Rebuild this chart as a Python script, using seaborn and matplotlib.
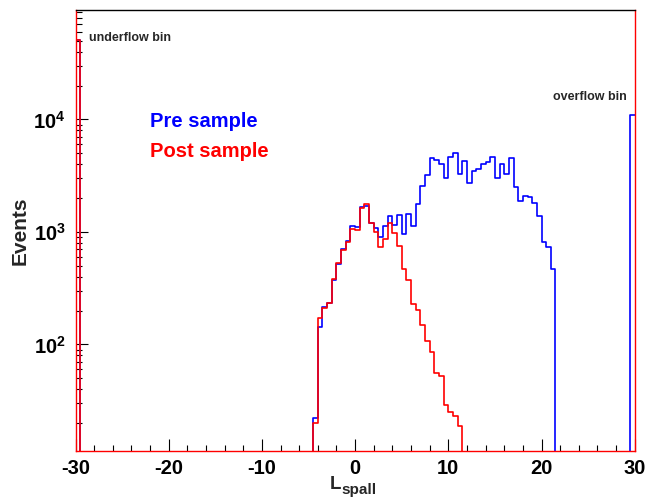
import numpy as np
import pandas as pd
import matplotlib
matplotlib.use('Agg')
import matplotlib.pyplot as plt
import seaborn as sns
from matplotlib.ticker import MultipleLocator, LogLocator, NullFormatter

# L_spall histograms, 0.5 wide bins on [-30, 30]
bin_width = 0.5
x_lo, x_hi = -30, 30
first_edge = -4.5  # first filled bin (both samples)

pre_counts = [22, 144, 217, 232, 372, 520, 700, 830, 1137, 1114,
              1679, 1714, 1210, 1078, 897, 1130, 1396, 1148, 1406, 953,
              1445, 1131, 1774, 2581, 3211, 4519, 4365, 4020, 3040, 4670,
              5010, 3260, 4300, 2743, 3508, 3630, 4000, 4170, 4670, 3040,
              4000, 3280, 4519, 2497, 1886, 2100, 2034, 1822, 1396, 810,
              741, 466]
post_counts = [20, 171, 210, 232, 380, 527, 692, 820, 1057, 1042,
               1625, 1762, 1210, 995, 731, 871, 1194, 972, 751, 466,
               374, 229, 203, 150, 107, 85, 56, 52, 29, 25,
               23, 19]
pre_underflow, pre_overflow = 50700, 10900
post_underflow, post_overflow = 50700, 0

edges = np.arange(x_lo, x_hi + bin_width / 2, bin_width)
centers = edges[:-1] + bin_width / 2


def fill_bins(counts, under, over):
    h = np.zeros(len(centers))
    i0 = int(round((first_edge - x_lo) / bin_width))
    h[i0:i0 + len(counts)] = counts
    h[0] += under      # underflow shown in first bin
    h[-1] += over      # overflow shown in last bin
    return h


df = pd.DataFrame({'L': centers,
                   'pre': fill_bins(pre_counts, pre_underflow, pre_overflow),
                   'post': fill_bins(post_counts, post_underflow, post_overflow)})

sns.set_style('ticks')
plt.rcParams['font.family'] = ['Liberation Sans', 'DejaVu Sans']
plt.rcParams['font.weight'] = 'bold'
plt.rcParams['axes.unicode_minus'] = False
plt.rcParams['mathtext.fontset'] = 'custom'
plt.rcParams['mathtext.rm'] = 'Liberation Sans:bold'
plt.rcParams['mathtext.bf'] = 'Liberation Sans:bold'
plt.rcParams['mathtext.it'] = 'Liberation Sans:bold'

fig = plt.figure(figsize=(6.47, 4.98), dpi=100)
ax = fig.add_axes([0.1167, 0.0944, 0.8643, 0.8855])

sns.histplot(data=df, x='L', weights='pre', binwidth=bin_width,
             binrange=(x_lo, x_hi), element='step',
             fill=False, color='blue', lw=1.2, ax=ax)
sns.histplot(data=df, x='L', weights='post', binwidth=bin_width,
             binrange=(x_lo, x_hi), element='step',
             fill=False, color='red', lw=1.2, ax=ax)

ax.set_yscale('log')
ax.set_xlim(x_lo, x_hi)
ax.set_ylim(11.3, 9.4e4)

ax.xaxis.set_major_locator(MultipleLocator(10))
ax.xaxis.set_minor_locator(MultipleLocator(2))
ax.set_yticks([1e2, 1e3, 1e4], labels=[r'$10^{2}$', r'$10^{3}$', r'$10^{4}$'])
ax.yaxis.set_minor_locator(LogLocator(base=10, subs=np.arange(2, 10)))
ax.yaxis.set_minor_formatter(NullFormatter())

ax.tick_params(which='both', direction='in', width=0.8, colors='black')
ax.tick_params(which='major', length=8.5, labelsize=14.5)
ax.tick_params(which='minor', length=4.3)
ax.tick_params(axis='x', which='major', pad=6)
ax.tick_params(axis='y', which='major', pad=7)
for lab in ax.get_xticklabels() + ax.get_yticklabels():
    lab.set_fontweight('bold')

for side in ['top', 'right', 'bottom', 'left']:
    ax.spines[side].set_linewidth(1.0)
ax.spines['top'].set_color('black')
for side in ['right', 'bottom', 'left']:
    ax.spines[side].set_color('red')

# x label: L with a large "spall" subscript, as in the ROOT canvas
ax.set_xlabel('')
ax.text(0.475, -0.087, 'L', transform=ax.transAxes, fontsize=13.5,
        fontweight='bold', ha='right', va='baseline')
ax.text(0.475, -0.098, 'spall', transform=ax.transAxes, fontsize=11,
        fontweight='bold', ha='left', va='baseline')
ax.set_ylabel('Events', fontsize=15, fontweight='bold', labelpad=3)

ax.text(0.024, 0.937, 'underflow bin', transform=ax.transAxes, fontsize=9,
        fontweight='bold', ha='left', va='center')
ax.text(0.854, 0.803, 'overflow bin', transform=ax.transAxes, fontsize=9,
        fontweight='bold', ha='left', va='center')
ax.text(0.133, 0.748, 'Pre sample', transform=ax.transAxes, fontsize=14.5,
        fontweight='bold', color='blue', ha='left', va='center')
ax.text(0.133, 0.680, 'Post sample', transform=ax.transAxes, fontsize=14.5,
        fontweight='bold', color='red', ha='left', va='center')

fig.savefig('out.png', dpi=100)
